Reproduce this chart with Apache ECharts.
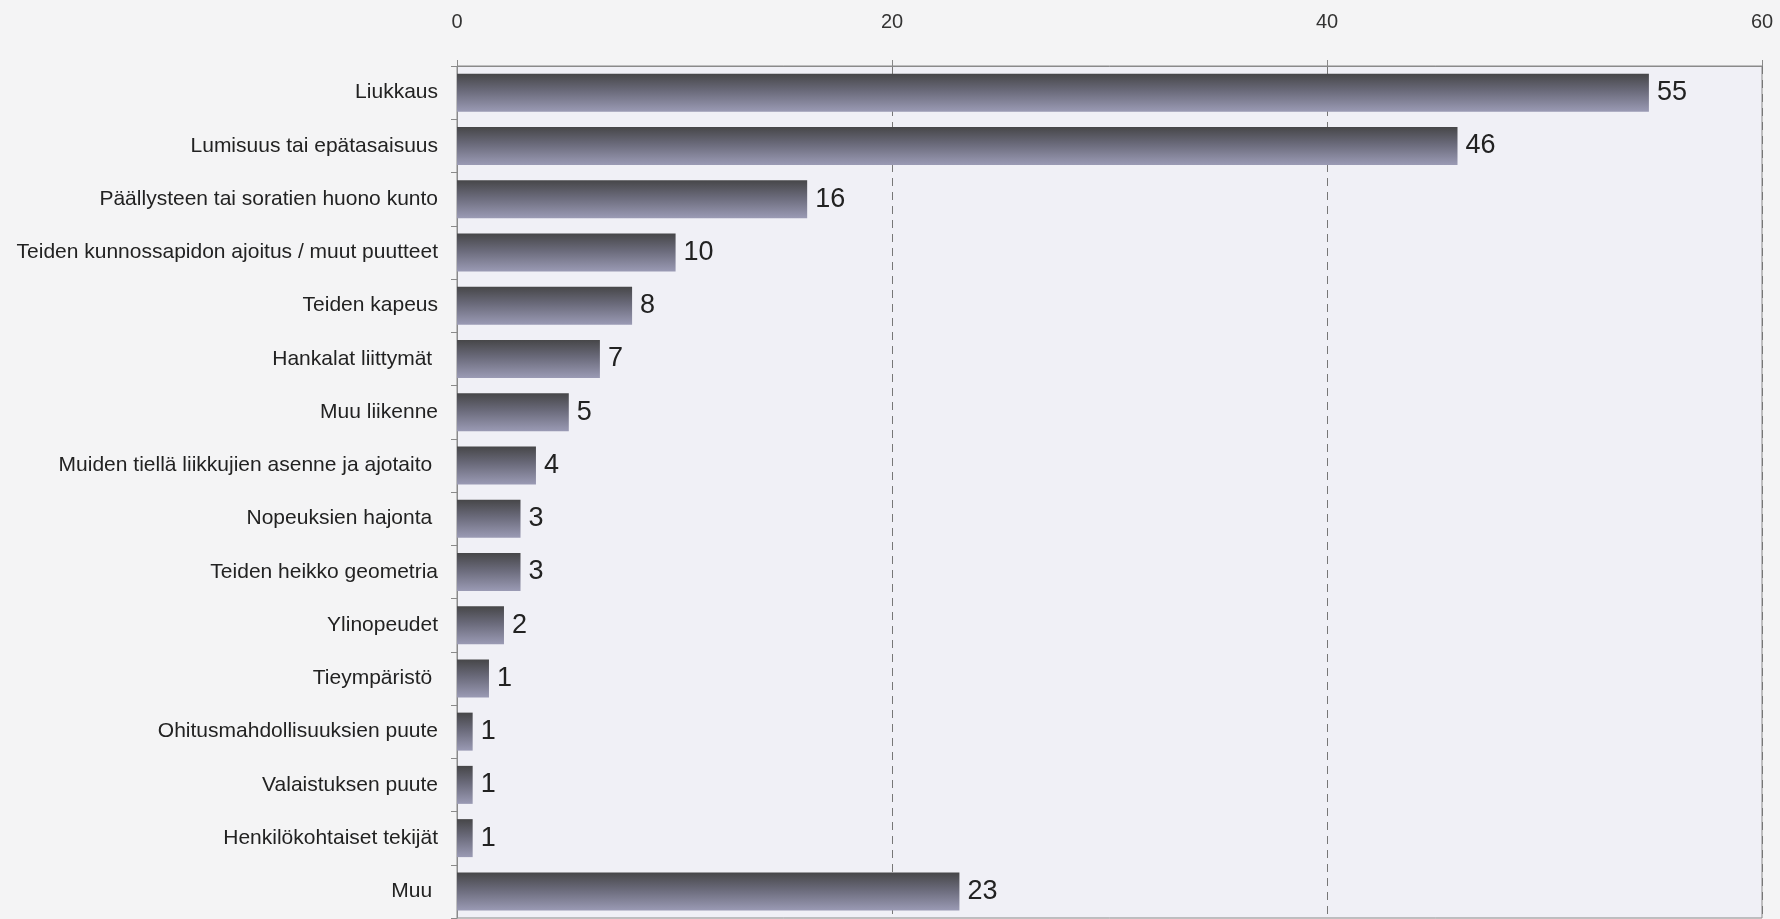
<!DOCTYPE html>
<html>
<head>
<meta charset="utf-8">
<script src="https://cdn.jsdelivr.net/npm/echarts@6/dist/echarts.min.js"></script>
<style>
html,body{margin:0;padding:0;background:#f4f4f5;}
#chart{width:1780px;height:919px;}
</style>
</head>
<body>
<div id="chart"></div>
<script>
const categories = [
  "Liukkaus",
  "Lumisuus tai epätasaisuus",
  "Päällysteen tai soratien huono kunto",
  "Teiden kunnossapidon ajoitus / muut puutteet",
  "Teiden kapeus",
  "Hankalat liittymät ",
  "Muu liikenne",
  "Muiden tiellä liikkujien asenne ja ajotaito ",
  "Nopeuksien hajonta ",
  "Teiden heikko geometria",
  "Ylinopeudet",
  "Tieympäristö ",
  "Ohitusmahdollisuuksien puute",
  "Valaistuksen puute",
  "Henkilökohtaiset tekijät",
  "Muu "
];
const values = [54.8, 46.0, 16.1, 10.05, 8.05, 6.57, 5.14, 3.63, 2.92, 2.92, 2.16, 1.47, 0.72, 0.72, 0.72, 23.1];
const valueLabels = [55, 46, 16, 10, 8, 7, 5, 4, 3, 3, 2, 1, 1, 1, 1, 23];
const xTicks = [0, 20, 40, 60];

const chart = echarts.init(document.getElementById('chart'));
chart.setOption({
  backgroundColor: '#f4f4f5',
  animation: false,
  grid: {
    left: 457, right: 18, top: 66, bottom: 1,
    show: true, backgroundColor: '#f0f0f6', borderColor: '#8a8a8a', borderWidth: 1
  },
  xAxis: {
    type: 'value', position: 'top', min: xTicks[0], max: xTicks[xTicks.length-1], interval: 20,
    axisLine: {show: true, lineStyle: {color: '#8a8a8a', width: 1}},
    axisTick: {show: true, length: 6, lineStyle: {color: '#8a8a8a'}},
    axisLabel: {color: '#333', fontSize: 20, fontFamily: 'Liberation Sans, Arial', margin: 34,
      formatter: v => xTicks.includes(v) ? String(v) : ''},
    splitLine: {show: true, lineStyle: {color: '#777', type: [8, 6], width: 1}}
  },
  yAxis: {
    type: 'category', data: categories, inverse: true,
    axisLine: {show: true, lineStyle: {color: '#8a8a8a', width: 1}},
    axisTick: {show: true, length: 6, lineStyle: {color: '#8a8a8a'}},
    axisLabel: {color: '#222', fontSize: 21, fontFamily: 'Liberation Sans, Arial', margin: 19}
  },
  series: [{
    type: 'bar',
    data: values,
    barWidth: 38,
    itemStyle: {
      color: new echarts.graphic.LinearGradient(0, 0, 0, 1, [
        {offset: 0, color: '#464648'},
        {offset: 0.45, color: '#6a6a7a'},
        {offset: 1, color: '#9a9ab4'}
      ])
    },
    label: {
      show: true, position: 'right', distance: 8,
      color: '#222', fontSize: 27, fontFamily: 'Liberation Sans, Arial',
      formatter: p => String(valueLabels[p.dataIndex])
    }
  }]
});
</script>
</body>
</html>
